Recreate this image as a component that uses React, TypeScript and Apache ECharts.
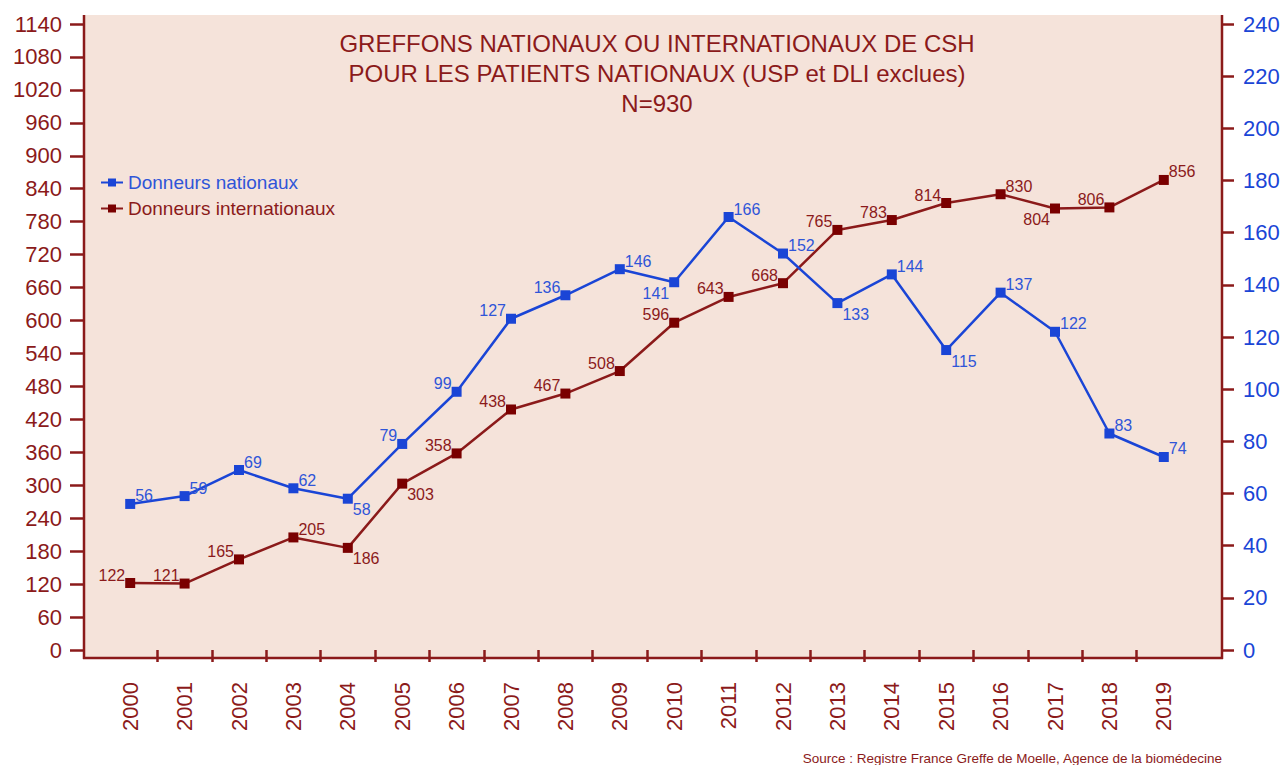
import React, { useEffect, useRef } from "react";
import * as echarts from "echarts";

const years = ["2000","2001","2002","2003","2004","2005","2006","2007","2008","2009","2010","2011","2012","2013","2014","2015","2016","2017","2018","2019"];
const nationaux = [56, 59, 69, 62, 58, 79, 99, 127, 136, 146, 141, 166, 152, 133, 144, 115, 137, 122, 83, 74];
const internationaux = [122, 121, 165, 205, 186, 303, 358, 438, 467, 508, 596, 643, 668, 765, 783, 814, 830, 804, 806, 856];
const nationauxLabelPlace = ["tr","tr","tr","tr","br","tl","tl","tl","tl","tr","bl","tr","tr","br","tr","br","tr","tr","tr","tr"];
const internationauxLabelPlace = ["tl","tl","tl","tr","br","br","tl","tl","tl","tl","tl","tl","tl","tl","tl","tl","tr","bl","tl","tr"];

const RED = "#8b1a1a";
const RED_MARK = "#7a0000";
const BLUE = "#1a45d6";
const BLUE_LABEL = "#2f55d8";
const BG = "#f5e3da";
const FONT = "Liberation Sans, Arial, sans-serif";

function placeStyle(p: string) {
  switch (p) {
    case "tl": return { align: "right", verticalAlign: "bottom", offset: [-5, 0] };
    case "br": return { align: "left", verticalAlign: "top", offset: [5, 3] };
    case "bl": return { align: "right", verticalAlign: "top", offset: [-5, 3] };
    case "r": return { align: "left", verticalAlign: "middle", offset: [8, 0] };
    default: return { align: "left", verticalAlign: "bottom", offset: [5, 0] };
  }
}

export default function App() {
  const ref = useRef<HTMLDivElement>(null);
  useEffect(() => {
    if (!ref.current) return;
    const chart = echarts.init(ref.current, null, { renderer: "svg" });
    const boundaries = ["", ...years];
    const option: any = {
      animation: false,
      backgroundColor: "#ffffff",
      textStyle: { fontFamily: FONT },
      title: {
        text: "GREFFONS NATIONAUX OU INTERNATIONAUX DE CSH\nPOUR LES PATIENTS NATIONAUX (USP et DLI exclues)\nN=930",
        left: 652,
        top: 23,
        textAlign: "center",
        textStyle: { color: RED, fontSize: 24, fontWeight: "normal", lineHeight: 30, fontFamily: FONT },
      },
      legend: {
        orient: "vertical",
        left: 95,
        top: 168,
        itemWidth: 22,
        itemHeight: 10,
        itemGap: 7,
        textStyle: { fontSize: 19, fontFamily: FONT },
        data: [
          { name: "Donneurs nationaux", textStyle: { color: BLUE_LABEL } },
          { name: "Donneurs internationaux", textStyle: { color: RED } },
        ],
      },
      grid: { left: 103, right: 95, top: 24, bottom: 115, containLabel: false },
      graphic: [
        { type: "rect", z: -10, silent: true, shape: { x: 84, y: 15, width: 1138, height: 643 }, style: { fill: BG } },
        { type: "line", z: 10, silent: true, shape: { x1: 84, y1: 15, x2: 84, y2: 659 }, style: { stroke: RED, lineWidth: 2.5 } },
        { type: "line", z: 10, silent: true, shape: { x1: 1222, y1: 15, x2: 1222, y2: 659 }, style: { stroke: RED, lineWidth: 2.5 } },
        { type: "line", z: 10, silent: true, shape: { x1: 83, y1: 658, x2: 1223, y2: 658 }, style: { stroke: RED, lineWidth: 2.5 } },
        {
          type: "text", silent: true, x: 1222, y: 758,
          style: { text: "Source : Registre France Greffe de Moelle, Agence de la biomédecine", fill: RED, fontSize: 13.5, fontFamily: FONT, textAlign: "right", textVerticalAlign: "middle" },
        },
      ],
      xAxis: [
        {
          type: "category",
          data: years,
          position: "bottom",
          offset: 8,
          boundaryGap: true,
          axisLine: { show: false },
          axisTick: { show: false },
          splitLine: { show: false },
          axisLabel: { rotate: 90, margin: 24, color: RED, fontSize: 22, fontFamily: FONT, interval: 0 },
        },
        {
          type: "category",
          data: boundaries,
          position: "bottom",
          offset: 8,
          boundaryGap: false,
          axisLine: { show: false },
          axisLabel: { show: false },
          splitLine: { show: false },
          axisTick: {
            show: true,
            length: 12,
            interval: (i: number) => i > 0 && i < boundaries.length - 1,
            lineStyle: { color: RED, width: 2.5 },
          },
        },
      ],
      yAxis: [
        {
          type: "value",
          position: "left",
          offset: 19,
          min: 0,
          max: 1140,
          interval: 60,
          axisLine: { show: false },
          axisTick: { show: true, length: 14, lineStyle: { color: RED, width: 2.5 } },
          splitLine: { show: false },
          axisLabel: { margin: 22, color: RED, fontSize: 22, fontFamily: FONT, formatter: (v: number) => String(v) },
        },
        {
          type: "value",
          position: "right",
          offset: 31,
          min: 0,
          max: 240,
          interval: 20,
          axisLine: { show: false },
          axisTick: { show: true, length: 12, lineStyle: { color: RED, width: 2.5 } },
          splitLine: { show: false },
          axisLabel: { margin: 21, color: BLUE, fontSize: 22, fontFamily: FONT, formatter: (v: number) => String(v) },
        },
      ],
      series: [
        {
          name: "Donneurs nationaux",
          type: "line",
          yAxisIndex: 1,
          symbol: "rect",
          symbolSize: 10,
          lineStyle: { color: BLUE, width: 2.5 },
          itemStyle: { color: BLUE },
          label: { show: true, position: "inside", color: BLUE_LABEL, fontSize: 16, fontFamily: FONT },
          data: nationaux.map((v, i) => ({ value: v, label: placeStyle(nationauxLabelPlace[i]) })),
          z: 3,
        },
        {
          name: "Donneurs internationaux",
          type: "line",
          yAxisIndex: 0,
          symbol: "rect",
          symbolSize: 10,
          lineStyle: { color: RED, width: 2.5 },
          itemStyle: { color: RED_MARK },
          label: { show: true, position: "inside", color: RED, fontSize: 16, fontFamily: FONT },
          data: internationaux.map((v, i) => ({ value: v, label: placeStyle(internationauxLabelPlace[i]) })),
          z: 2,
        },
      ],
    };
    chart.setOption(option);
    return () => chart.dispose();
  }, []);
  return <div ref={ref} style={{ position: "absolute", left: 0, top: 0, width: 1286, height: 765 }} />;
}
